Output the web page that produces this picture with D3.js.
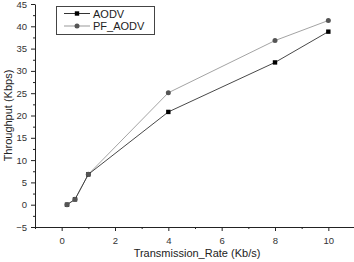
<!DOCTYPE html>
<html>
<head>
<meta charset="utf-8">
<script src="https://cdn.jsdelivr.net/npm/d3@7"></script>
<style>
  body { margin: 0; background: #fff; }
  svg { display: block; font-family: Arial, "Liberation Sans", sans-serif; }
  .axis path, .axis line { stroke: #222; }
  .axis text { fill: #333; font-size: 9.5px; }
</style>
</head>
<body>
<svg width="354" height="262"></svg>
<script>
const rates = [0.2, 0.5, 1, 4, 8, 10];
const aodv = [0, 1.2, 6.8, 20.8, 31.9, 38.8];
const pfAodv = [0, 1.2, 6.8, 25.1, 36.8, 41.3];
const xTicks = [0, 2, 4, 6, 8, 10];
const yTicks = [-5, 0, 5, 10, 15, 20, 25, 30, 35, 40, 45];

const svg = d3.select('svg');
const margens = { left: 35, right: -1, top: 4, bottom: 35 };
const width = +svg.attr('width');
const height = +svg.attr('height');

const x = d3.scaleLinear().domain([-1, 11]).range([margens.left, width - margens.right]);
const y = d3.scaleLinear().domain([-5, 45]).range([height - margens.bottom, margens.top]);

// ---- Eixos
svg.append('g')
  .attr('class', 'axis')
  .attr('transform', `translate(0, ${height - margens.bottom})`)
  .call(d3.axisBottom(x).tickValues(xTicks).tickSize(4).tickSizeOuter(0).tickPadding(6));

svg.append('g')
  .attr('class', 'axis')
  .attr('transform', `translate(0, ${height - margens.bottom})`)
  .call(d3.axisBottom(x).tickValues(d3.range(-1, 12, 2)).tickSize(2).tickFormat(''))
  .select('.domain').remove();

svg.append('g')
  .attr('class', 'axis')
  .attr('transform', `translate(${margens.left}, 0)`)
  .call(d3.axisLeft(y).tickValues(yTicks).tickSize(4).tickSizeOuter(0).tickPadding(4));

svg.append('g')
  .attr('class', 'axis')
  .attr('transform', `translate(${margens.left}, 0)`)
  .call(d3.axisLeft(y).tickValues(d3.range(-2.5, 45, 5)).tickSize(2).tickFormat(''))
  .select('.domain').remove();

// ---- Rótulos
svg.append('text')
  .attr('x', 197)
  .attr('y', 257)
  .attr('text-anchor', 'middle')
  .style('font-size', '11px')
  .attr('fill', '#222')
  .text('Transmission_Rate (Kb/s)');

svg.append('text')
  .attr('transform', 'rotate(-90)')
  .attr('x', -(y(20)))
  .attr('y', 12)
  .attr('text-anchor', 'middle')
  .style('font-size', '11px')
  .attr('fill', '#222')
  .text('Throughput (Kbps)');

// ---- Séries
const series = [
  { name: 'AODV', values: aodv, line: '#333', mark: '#000', shape: 'square' },
  { name: 'PF_AODV', values: pfAodv, line: '#999', mark: '#555', shape: 'circle' }
];

const linha = d3.line()
  .x((d, i) => x(rates[i]))
  .y(d => y(d));

function marker(g, s, cx, cy) {
  if (s.shape === 'square') {
    g.append('rect')
      .attr('x', cx - 2.2).attr('y', cy - 2.2)
      .attr('width', 4.4).attr('height', 4.4)
      .attr('fill', s.mark);
  } else {
    g.append('circle')
      .attr('cx', cx).attr('cy', cy).attr('r', 2.5)
      .attr('fill', s.mark);
  }
}

series.slice().reverse().forEach(s => {
  svg.append('path')
    .datum(s.values)
    .attr('d', linha)
    .attr('fill', 'none')
    .attr('stroke', s.line)
    .attr('stroke-width', 0.9);
});

series.forEach(s => {
  const g = svg.append('g');
  s.values.forEach((v, i) => marker(g, s, x(rates[i]), y(v)));
});

// ---- Legenda
const leg = svg.append('g');
leg.append('rect')
  .attr('x', 56.5).attr('y', 6.5)
  .attr('width', 98).attr('height', 28)
  .attr('fill', '#fff')
  .attr('stroke', '#444');

series.forEach((s, i) => {
  const ly = 13.5 + i * 12.5;
  leg.append('line')
    .attr('x1', 64).attr('x2', 90)
    .attr('y1', ly).attr('y2', ly)
    .attr('stroke', s.line);
  marker(leg, s, 77, ly);
  leg.append('text')
    .attr('x', 93).attr('y', ly + 4)
    .style('font-size', '11px')
    .attr('fill', '#222')
    .text(s.name);
});
</script>
</body>
</html>
